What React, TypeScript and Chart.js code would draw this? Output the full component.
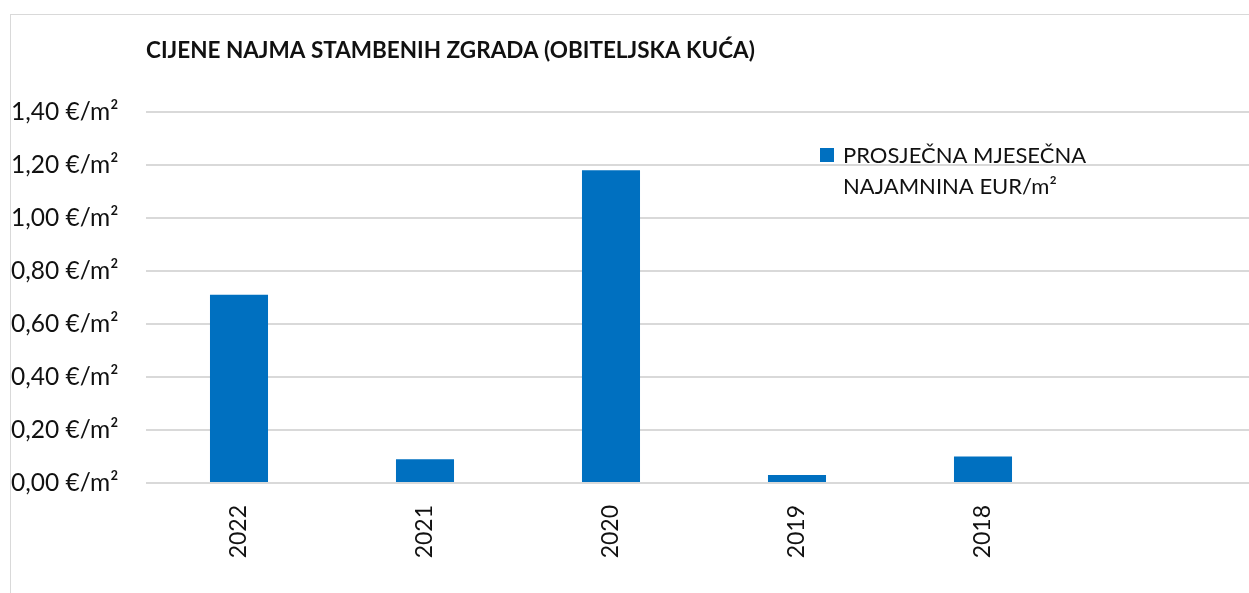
import React, { useEffect, useRef } from "react";
import { Chart, registerables } from "chart.js";

Chart.register(...registerables);

const TITLE = "CIJENE NAJMA STAMBENIH ZGRADA (OBITELJSKA KUĆA)";
const SERIES_LABEL_LINES = ["PROSJEČNA MJESEČNA", "NAJAMNINA EUR/m²"];
const CATEGORIES = ["2022", "2021", "2020", "2019", "2018", ""];
const VALUES: (number | null)[] = [0.71, 0.09, 1.18, 0.03, 0.1, null];
const Y_MIN = 0;
const Y_MAX = 1.4;
const Y_STEP = 0.2;

const FONT = "Lato, 'Open Sans', sans-serif";
const BAR_COLOR = "#0070C0";

const overlayPlugin = {
  id: "overlay",
  afterDraw(chart: any) {
    const ctx = chart.ctx;
    ctx.save();
    ctx.fillStyle = "#111";
    ctx.font = `bold 22.5px ${FONT}`;
    ctx.textBaseline = "alphabetic";
    ctx.textAlign = "left";
    ctx.fillText(TITLE, 135, 43);

    ctx.fillStyle = BAR_COLOR;
    ctx.fillRect(809, 133, 14, 14);
    ctx.fillStyle = "#111";
    ctx.font = `22px ${FONT}`;
    ctx.fillText(SERIES_LABEL_LINES[0], 832, 148);
    ctx.fillText(SERIES_LABEL_LINES[1], 832, 179);
    ctx.restore();
  },
};

export default function App() {
  const ref = useRef<HTMLCanvasElement | null>(null);
  useEffect(() => {
    document.body.style.overflow = "hidden";
    const canvas = ref.current!;
    const chart = new Chart(canvas, {
      type: "bar",
      data: {
        labels: CATEGORIES,
        datasets: [
          {
            label: SERIES_LABEL_LINES.join(" "),
            data: VALUES,
            backgroundColor: BAR_COLOR,
            barPercentage: 1,
            categoryPercentage: 0.312,
          },
        ],
      },
      plugins: [overlayPlugin],
      options: {
        responsive: false,
        animation: false,
        devicePixelRatio: 1,
        layout: { padding: { top: 97, right: 29, left: 0, bottom: 0 } },
        plugins: {
          legend: { display: false },
          title: { display: false },
          tooltip: { enabled: false },
        },
        scales: {
          x: {
            grid: { display: false },
            border: { display: false },
            ticks: {
              maxRotation: 90,
              minRotation: 90,
              padding: 14,
              color: "#111",
              font: { family: FONT, size: 23 },
            },
            afterFit(scale: any) {
              scale.height = 132;
            },
          },
          y: {
            min: Y_MIN,
            max: Y_MAX,
            border: { display: false },
            grid: { color: "#d9d9d9", lineWidth: 2, drawTicks: false },
            ticks: {
              stepSize: Y_STEP,
              crossAlign: "far",
              color: "#111",
              font: { family: FONT, size: 24.5 },
              callback: (v: any) => Number(v).toFixed(2).replace(".", ",") + " €/m²",
            },
            afterFit(scale: any) {
              scale.width = 135;
            },
          },
        },
      },
    });
    return () => chart.destroy();
  }, []);

  return (
    <div
      style={{
        position: "absolute",
        left: 10,
        top: 14,
        width: 1300,
        height: 620,
        border: "1px solid #d9d9d9",
        background: "#fff",
      }}
    >
      <canvas ref={ref} width={1280} height={600} style={{ display: "block" }} />
    </div>
  );
}
